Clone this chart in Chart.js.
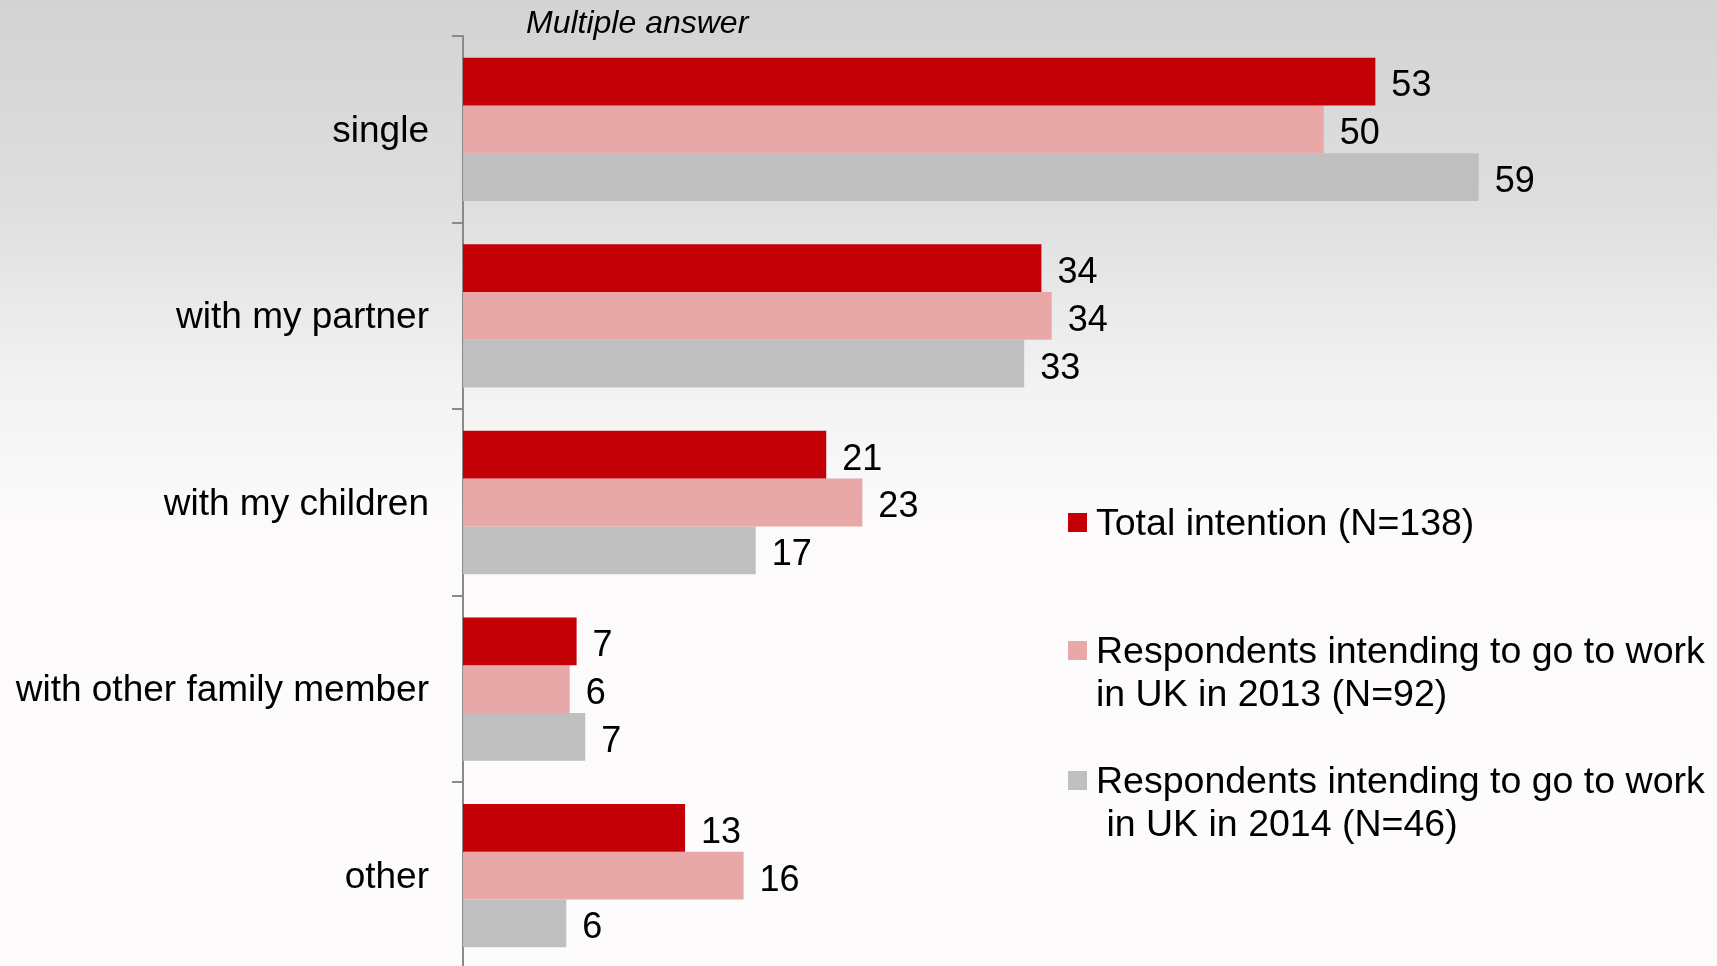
<!DOCTYPE html>
<html lang="en">
<head>
    <meta charset="UTF-8">
    <title>Living arrangement in UK</title>
    <script src="https://cdn.jsdelivr.net/npm/chart.js"></script>
    <style>
        html, body {
            margin: 0;
            padding: 0;
        }

        body {
            width: 1717px;
            height: 966px;
            overflow: hidden;
            font-family: "Liberation Sans", Arial, sans-serif;
            background: linear-gradient(to bottom, #d3d3d3 0px, #dedede 200px, #f3f2f2 380px, #fcfafb 520px, #fdfbfc 966px);
            position: relative;
        }

        #chartContainer {
            position: absolute;
            left: 0;
            top: 0;
            width: 1717px;
            height: 966px;
            overflow: hidden;
        }

        #note {
            position: absolute;
            left: 526px;
            top: 6px;
            font-size: 32px;
            line-height: 32px;
            font-style: italic;
            color: #000;
        }

        .legend-item {
            position: absolute;
            left: 1096px;
            font-size: 37.5px;
            line-height: 43px;
            white-space: pre;
            color: #000;
        }

        .legend-box {
            position: absolute;
            left: -28px;
            top: 12px;
            width: 19px;
            height: 19px;
        }
    </style>
</head>
<body>
    <div id="chartContainer">
        <canvas id="livingChart" width="1717" height="969"></canvas>
    </div>
    <div id="note">Multiple answer</div>
    <div id="legend"></div>

    <script>
        // categories and series (percent of respondents, labels show rounded values)
        const categories = ['single', 'with my partner', 'with my children', 'with other family member', 'other'];
        const totalIntention = [53, 33.6, 21.1, 6.6, 12.9];
        const uk2013 = [50, 34.2, 23.2, 6.2, 16.3];
        const uk2014 = [59, 32.6, 17, 7.1, 6];

        const seriesLabels = [
            'Total intention (N=138)',
            'Respondents intending to go to work\nin UK in 2013 (N=92)',
            'Respondents intending to go to work\n in UK in 2014 (N=46)'
        ];
        const seriesColors = ['#c20006', '#e8a8a8', '#bfbfbf'];
        const legendTops = [501, 629, 759];

        // draw the numbers next to each bar
        const valueLabels = {
            id: 'valueLabels',
            afterDatasetsDraw(chart) {
                const c = chart.ctx;
                c.save();
                c.font = '36px "Liberation Sans", Arial, sans-serif';
                c.fillStyle = '#000';
                c.textAlign = 'left';
                c.textBaseline = 'middle';
                chart.data.datasets.forEach((ds, i) => {
                    chart.getDatasetMeta(i).data.forEach((bar, j) => {
                        c.fillText(Math.round(ds.data[j]), bar.x + 16, bar.y + 5);
                    });
                });
                c.restore();
            }
        };

        const ctx = document.getElementById('livingChart').getContext('2d');
        const livingChart = new Chart(ctx, {
            type: 'bar',
            data: {
                labels: categories,
                datasets: [
                    { label: seriesLabels[0], data: totalIntention, backgroundColor: seriesColors[0] },
                    { label: seriesLabels[1], data: uk2013, backgroundColor: seriesColors[1] },
                    { label: seriesLabels[2], data: uk2014, backgroundColor: seriesColors[2] }
                ]
            },
            options: {
                indexAxis: 'y',
                responsive: false,
                animation: false,
                datasets: {
                    bar: {
                        categoryPercentage: 0.768,
                        barPercentage: 1.0
                    }
                },
                layout: {
                    padding: { top: 36, right: 49, bottom: 0, left: 0 }
                },
                scales: {
                    x: {
                        display: false,
                        min: 0,
                        max: 70
                    },
                    y: {
                        afterFit(scale) {
                            scale.width = 463;
                            scale.paddingTop = 0;
                            scale.paddingBottom = 0;
                        },
                        border: {
                            display: true,
                            color: '#8a8a8a',
                            width: 2
                        },
                        grid: {
                            offset: true,
                            drawOnChartArea: false,
                            drawTicks: true,
                            tickLength: 11,
                            color: '#8a8a8a',
                            lineWidth: 2
                        },
                        ticks: {
                            color: '#000',
                            padding: 23,
                            labelOffset: 2,
                            font: {
                                family: '"Liberation Sans", Arial, sans-serif',
                                size: 37
                            }
                        }
                    }
                },
                plugins: {
                    legend: { display: false },
                    tooltip: { enabled: false }
                }
            },
            plugins: [valueLabels]
        });

        // legend on the right, built from the dataset labels
        const legend = document.getElementById('legend');
        livingChart.data.datasets.forEach((ds, i) => {
            const item = document.createElement('div');
            item.className = 'legend-item';
            item.style.top = legendTops[i] + 'px';
            item.textContent = ds.label;
            const box = document.createElement('span');
            box.className = 'legend-box';
            box.style.background = ds.backgroundColor;
            item.appendChild(box);
            legend.appendChild(item);
        });
    </script>
</body>
</html>
